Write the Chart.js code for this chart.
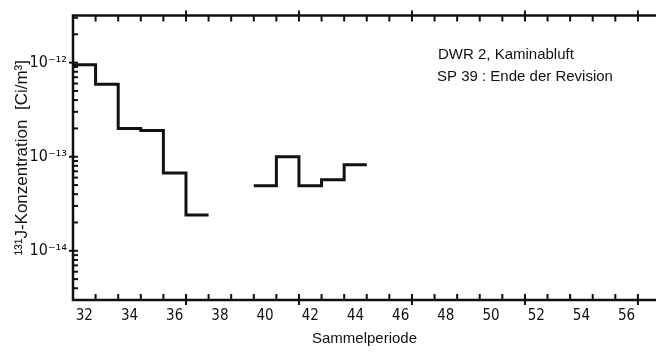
<!DOCTYPE html>
<html>
<head>
<meta charset="utf-8">
<script src="https://cdn.jsdelivr.net/npm/chart.js@4/dist/chart.umd.min.js"></script>
<style>
  html, body { margin: 0; padding: 0; background: #fff; }
  #box { width: 656px; height: 352px; }
</style>
</head>
<body>
<div id="box"><canvas id="grafik"></canvas></div>
<script>
// Sammelperioden und 131J-Konzentration [Ci/m3] (null = kein Messwert)
const perioden = [32, 33, 34, 35, 36, 37, 38, 39, 40, 41, 42, 43, 44];
const werte = [9.5e-13, 5.9e-13, 2.0e-13, 1.9e-13, 6.7e-14, 2.4e-14, null, null, 4.9e-14, 1.0e-13, 4.9e-14, 5.7e-14, 8.2e-14];
const xLabels = [32, 34, 36, 38, 40, 42, 44, 46, 48, 50, 52, 54, 56];
const yLabels = [1e-14, 1e-13, 1e-12];
const yLabelText = { "-14": "10⁻¹⁴", "-13": "10⁻¹³", "-12": "10⁻¹²" };
const textZeilen = ["DWR 2, Kaminabluft", "SP 39 : Ende der Revision"];

// Treppenkurve: jede Periode geht von p-0.5 bis p+0.5
const punkte = [];
perioden.forEach((p, i) => {
  const v = werte[i];
  if (v === null) return;
  punkte.push({ x: p - 0.5, y: v });
  const naechster = werte[i + 1];
  if (naechster === null || naechster === undefined) {
    punkte.push({ x: p + 0.5, y: v });
    punkte.push({ x: p + 0.5, y: null });
  }
});

const schwarz = "#111";

// Rahmen, nach innen zeigende Striche und Beschriftung im Diagramm
const rahmenPlugin = {
  id: "rahmen",
  afterDraw(chart) {
    const ctx = chart.ctx;
    const a = chart.chartArea;
    const xs = chart.scales.x;
    const ys = chart.scales.y;
    ctx.save();
    ctx.strokeStyle = schwarz;
    ctx.lineCap = "butt";

    // Rahmen links, oben, unten
    ctx.lineWidth = 2.5;
    ctx.beginPath();
    ctx.moveTo(a.right, a.top);
    ctx.lineTo(a.left, a.top);
    ctx.lineTo(a.left, a.bottom);
    ctx.lineTo(a.right, a.bottom);
    ctx.stroke();

    // x-Striche an den Periodengrenzen
    ctx.lineWidth = 2;
    for (let g = 32.5; g <= 57.5; g += 1) {
      const px = xs.getPixelForValue(g);
      if (px > a.right) break;
      const lang = (g - 1.5) % 5 === 0;
      ctx.beginPath();
      ctx.moveTo(px, a.bottom + (lang ? 5 : 0));
      ctx.lineTo(px, a.bottom - 6);
      ctx.moveTo(px, a.top - (lang ? 5 : 0));
      ctx.lineTo(px, a.top + 6);
      ctx.stroke();
    }

    // y-Striche (logarithmisch)
    for (let d = -15; d <= -12; d++) {
      for (let m = 1; m <= 9; m++) {
        const v = m * Math.pow(10, d);
        if (v < ys.min || v > ys.max) continue;
        const py = ys.getPixelForValue(v);
        ctx.beginPath();
        ctx.moveTo(a.left - (m === 1 ? 4 : 0), py);
        ctx.lineTo(a.left + 5, py);
        ctx.stroke();
      }
    }

    // Beschriftung
    ctx.fillStyle = schwarz;
    ctx.font = "15px 'Liberation Sans'";
    ctx.textBaseline = "middle";
    ctx.textAlign = "left";
    ctx.fillText(textZeilen[0], a.left + 365, 55);
    ctx.fillText(textZeilen[1], a.left + 364, 77);
    ctx.restore();
  }
};

new Chart(document.getElementById("grafik"), {
  type: "line",
  data: {
    datasets: [{
      data: punkte,
      stepped: "before",
      borderColor: schwarz,
      borderWidth: 3,
      pointRadius: 0,
      fill: false,
      spanGaps: false
    }]
  },
  options: {
    responsive: true,
    maintainAspectRatio: false,
    animation: false,
    layout: { padding: { top: 12, right: 0, left: 0, bottom: 0 } },
    plugins: {
      legend: { display: false },
      tooltip: { enabled: false }
    },
    scales: {
      x: {
        type: "linear",
        min: 31.5,
        max: 57.3,
        grid: { display: false, drawTicks: false },
        border: { display: false },
        afterBuildTicks: s => { s.ticks = xLabels.map(v => ({ value: v })); },
        afterFit: s => { s.height = 52; },
        ticks: {
          color: schwarz,
          padding: 7,
          maxRotation: 0,
          autoSkip: false,
          font: { family: "'DejaVu Sans Condensed'", size: 15 },
          callback: v => String(v)
        },
        title: {
          display: true,
          text: "Sammelperiode",
          color: schwarz,
          font: { family: "'Liberation Sans'", size: 15 },
          padding: { top: 0, bottom: 4 }
        }
      },
      y: {
        type: "logarithmic",
        min: Math.pow(10, -14.5),
        max: Math.pow(10, -11.5),
        grid: { display: false, drawTicks: false },
        border: { display: false },
        afterBuildTicks: s => { s.ticks = yLabels.map(v => ({ value: v })); },
        afterFit: s => { s.width = 73; },
        ticks: {
          color: schwarz,
          padding: 6,
          autoSkip: false,
          font: { family: "'DejaVu Sans Condensed'", size: 16 },
          callback: v => yLabelText[String(Math.round(Math.log10(v)))]
        },
        title: {
          display: true,
          text: "¹³¹J-Konzentration  [Ci/m³]",
          color: schwarz,
          font: { family: "'Liberation Sans'", size: 17 },
          padding: { top: 12, bottom: 0 }
        }
      }
    }
  },
  plugins: [rahmenPlugin]
});
</script>
</body>
</html>
